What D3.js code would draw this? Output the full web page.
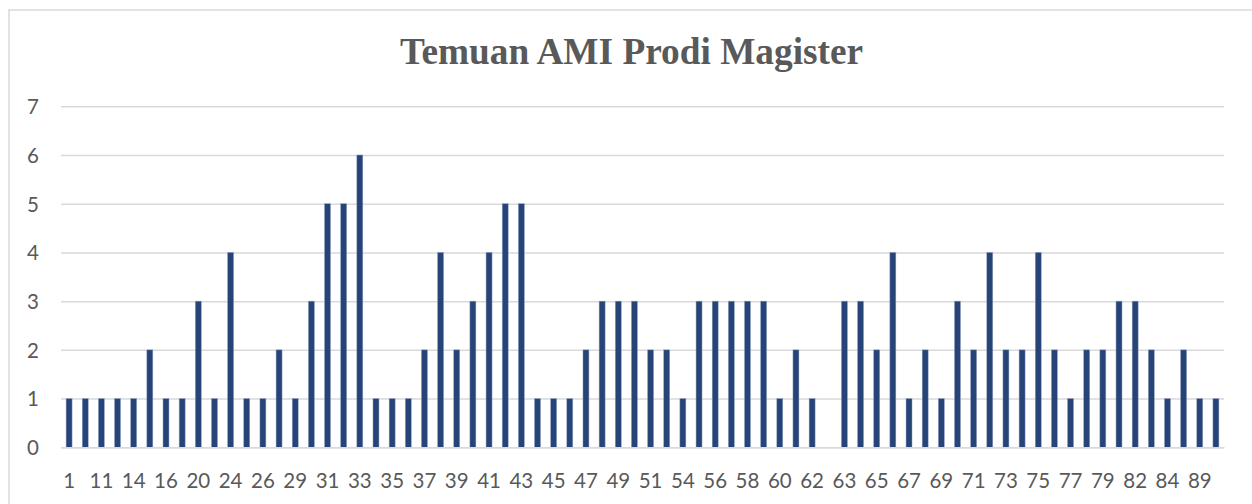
<!DOCTYPE html>
<html>
<head>
<meta charset="utf-8">
<script src="https://cdn.jsdelivr.net/npm/d3@7"></script>
<style>
  html, body { margin: 0; padding: 0; background: #fff; }
  svg { display: block; }
</style>
</head>
<body>
<svg id="chart" width="1252" height="504"></svg>
<script>
// Category labels (odd-position labels are hidden in the original; estimated)
const categories = ["1","10","11","13","14","15","16","19","20","22","24","25","26","28","29","30",
  "31","32","33","34","35","36","37","38","39","40","41","42","43","44","45","46","47","48","49","50",
  "51","52","54","55","56","57","58","59","60","61","62","62","63","64","65","66","67","68","69","70",
  "71","72","73","74","75","76","77","78","79","80","82","83","84","86","89","90"];
const values = [1,1,1,1,1,2,1,1,3,1,4,1,1,2,1,3,5,5,6,1,1,1,2,4,
  2,3,4,5,5,1,1,1,2,3,3,3,2,2,1,3,3,3,3,3,1,2,1,0,3,3,
  2,4,1,2,1,3,2,4,2,2,4,2,1,2,2,3,3,2,1,2,1,1];
const yTicks = [0,1,2,3,4,5,6,7];
const title = "Temuan AMI Prodi Magister";

const svg = d3.select("#chart");
const plotLeft = 61, plotRight = 1224, plotTop = 106.3, plotBottom = 447.3;

// border
svg.append("rect").attr("x", 9).attr("y", 10).attr("width", 1260).attr("height", 520)
  .attr("fill", "none").attr("stroke", "#d9d9d9").attr("stroke-width", 1.5);

svg.append("text").attr("x", 631.5).attr("y", 64).attr("text-anchor", "middle")
  .attr("font-family", "'Liberation Serif', 'Times New Roman', serif")
  .attr("font-weight", "bold").attr("font-size", 37.3).attr("fill", "#595959")
  .text(title);

const idx = d3.range(values.length);
const x = d3.scaleBand().domain(idx).range([plotLeft, plotRight]).paddingInner(0.63).paddingOuter(0.315);
const y = d3.scaleLinear().domain([0, 7]).range([plotBottom, plotTop]);

// grid
const yAxis = d3.axisLeft(y).tickValues(yTicks).tickSize(-(plotRight - plotLeft)).tickFormat(d3.format("d"));
const gy = svg.append("g").attr("transform", `translate(${plotLeft},0)`).call(yAxis);
gy.select(".domain").remove();
gy.selectAll(".tick line").attr("stroke", "#d9d9d9").attr("stroke-width", 1.5);
gy.selectAll(".tick text").attr("x", -22).attr("dy", "0.36em")
  .attr("font-family", "Lato, 'Open Sans', sans-serif").attr("font-size", 20.5).attr("fill", "#595959");

// bars
svg.append("g").selectAll("rect").data(idx).join("rect")
  .attr("x", i => x(i))
  .attr("width", x.bandwidth())
  .attr("y", i => y(values[i]))
  .attr("height", i => y(0) - y(values[i]))
  .attr("fill", "#264478")
  .attr("stroke", "#8ea0bf").attr("stroke-width", 0.5);

// x axis
const xAxis = d3.axisBottom(x).tickSize(0)
  .tickFormat(i => (i % 2 === 0 ? categories[i] : ""));
const gx = svg.append("g").attr("transform", `translate(0,${plotBottom})`).call(xAxis);
gx.select(".domain").attr("stroke", "#d9d9d9").attr("stroke-width", 1.5);
gx.selectAll(".tick text").attr("y", 33).attr("dy", "0.36em")
  .attr("font-family", "Lato, 'Open Sans', sans-serif").attr("font-size", 20.5).attr("fill", "#595959");
</script>
</body>
</html>
